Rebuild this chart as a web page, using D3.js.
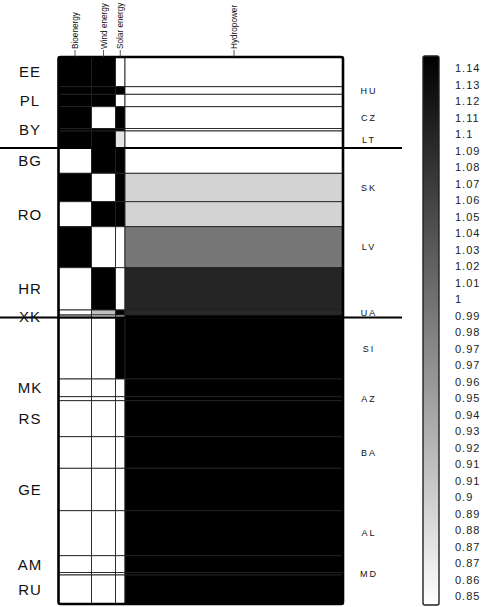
<!DOCTYPE html>
<meta charset="utf-8">
<script src="https://d3js.org/d3.v7.min.js"></script>
<style>
  body { margin: 0; background: #fff; }
  text { font-family: "Liberation Sans", Arial, sans-serif; }
</style>
<svg id="chart" width="484" height="607"></svg>
<script>

// rows (countries), top to bottom, and their relative heights
var countries = ["EE","HU","PL","CZ","BY","LT","BG","SK","RO","LV","HR","UA","XK",
                 "SI","MK","AZ","RS","BA","GE","AL","AM","MD","RU"];
var rowSize = [29.7, 7.6, 12.4, 21.8, 2.5, 17.5, 24.8, 28.4, 25, 41, 42.3, 5, 3,
               61, 17.7, 4, 36, 31.6, 42.4, 45, 16.8, 2.5, 29];

// columns (sources) and their relative widths
var sources = ["Bioenergy", "Wind energy", "Solar energy", "Hydropower"];
var sourceSize = [33, 24, 9.5, 218];

// values per country, one array per source
var bio   = [1.14,1.14,1.14,1.14,1.14,1.14, 0.85,1.14,0.85,1.14,0.85,0.85,0.93,
             0.85,0.85,0.85,0.85,0.85,0.85,0.85,0.85,0.85,0.85];
var wind  = [1.14,1.14,1.14,0.85,1.14,1.14, 1.14,0.85,1.14,0.85,1.14,0.92,0.85,
             0.85,0.85,0.85,0.85,0.85,0.85,0.85,0.85,0.85,0.85];
var solar = [0.85,1.14,0.85,1.14,1.14,0.88, 1.14,1.14,1.14,0.85,0.85,1.14,0.93,
             1.14,0.85,0.85,0.85,0.85,0.85,0.85,0.85,0.85,0.85];
var hydro = [0.85,0.85,0.85,0.85,0.85,0.85, 0.85,0.90,0.90,1.005,1.098,1.095,1.14,
             1.14,1.14,1.14,1.14,1.14,1.14,1.14,1.14,1.14,1.14];

// last country of each group (a line is drawn under it)
var groupEnds = ["LT", "XK"];

// colour bar
var legendDomain = [0.85, 1.14];
var legendLabels = ["1.14","1.13","1.12","1.11","1.1","1.09","1.08","1.07","1.06","1.05",
                    "1.04","1.03","1.02","1.01","1","0.99","0.98","0.97","0.97","0.96",
                    "0.95","0.94","0.93","0.92","0.91","0.91","0.9","0.89","0.88","0.87",
                    "0.87","0.86","0.85"];

var svg = d3.select("#chart");

var values = [bio, wind, solar, hydro];
var rowStart = [0].concat(Array.from(d3.cumsum(rowSize)));
var colStart = [0].concat(Array.from(d3.cumsum(sourceSize)));

var y = d3.scaleLinear().domain([0, d3.sum(rowSize)]).range([57, 604]);
var x = d3.scaleLinear().domain([0, d3.sum(sourceSize)]).range([58.5, 343]);

var color = d3.scaleLinear()
    .domain(legendDomain)
    .range(["#ffffff", "#000000"])
    .clamp(true);

// cells
var cells = [];
countries.forEach(function(c, i) {
  sources.forEach(function(s, j) {
    cells.push({ row: i, col: j, v: values[j][i] });
  });
});

svg.append("g")
  .selectAll("rect")
  .data(cells)
  .enter()
  .append("rect")
    .attr("x", function(d){ return x(colStart[d.col]) })
    .attr("y", function(d){ return y(rowStart[d.row]) })
    .attr("width", function(d){ return x(colStart[d.col + 1]) - x(colStart[d.col]) })
    .attr("height", function(d){ return y(rowStart[d.row + 1]) - y(rowStart[d.row]) })
    .attr("fill", function(d){ return color(d.v) })
    .attr("stroke", "#222")
    .attr("stroke-width", 0.9);

// outer frame
svg.append("rect")
  .attr("x", x(0))
  .attr("y", y(0))
  .attr("width", x(colStart[4]) - x(0))
  .attr("height", y(rowStart[countries.length]) - y(0))
  .attr("rx", 2)
  .attr("fill", "none")
  .attr("stroke", "#000")
  .attr("stroke-width", 2.6);

// group separators
svg.append("g")
  .selectAll("line")
  .data(groupEnds)
  .enter()
  .append("line")
    .attr("x1", 0)
    .attr("x2", 402)
    .attr("y1", function(d){ return y(rowStart[countries.indexOf(d) + 1]) - 0.5 })
    .attr("y2", function(d){ return y(rowStart[countries.indexOf(d) + 1]) - 0.5 })
    .attr("stroke", "#000")
    .attr("stroke-width", 2);

// country labels, alternating left / right
svg.append("g")
  .selectAll("text")
  .data(countries)
  .enter()
  .append("text")
    .attr("x", function(d, i){ return i % 2 == 0 ? 30 : 369 })
    .attr("y", function(d, i){ return (y(rowStart[i]) + y(rowStart[i + 1])) / 2 })
    .attr("text-anchor", "middle")
    .attr("dominant-baseline", "central")
    .style("font-size", function(d, i){ return i % 2 == 0 ? "15px" : "9px" })
    .style("letter-spacing", function(d, i){ return i % 2 == 0 ? "1px" : "2px" })
    .attr("fill", "#111")
    .text(function(d){ return d });

// column headers
var colCenter = sources.map(function(s, j){ return (x(colStart[j]) + x(colStart[j + 1])) / 2 });

svg.append("g")
  .selectAll("line")
  .data(sources)
  .enter()
  .append("line")
    .attr("x1", function(d, j){ return colCenter[j] })
    .attr("x2", function(d, j){ return colCenter[j] })
    .attr("y1", 50)
    .attr("y2", 57)
    .attr("stroke", "#333")
    .attr("stroke-width", 0.8);

svg.append("g")
  .selectAll("text")
  .data(sources)
  .enter()
  .append("text")
    .attr("transform", function(d, j){ return "translate(" + (colCenter[j] + 3) + ",49) rotate(-90)" })
    .attr("text-anchor", "start")
    .style("font-size", "8.2px")
    .attr("fill", "#111")
    .text(function(d){ return d });

// colour bar
var defs = svg.append("defs");
var grad = defs.append("linearGradient")
  .attr("id", "bar")
  .attr("x1", 0).attr("y1", 1).attr("x2", 0).attr("y2", 0);
grad.append("stop").attr("offset", "0%").attr("stop-color", color(legendDomain[0]));
grad.append("stop").attr("offset", "100%").attr("stop-color", color(legendDomain[1]));

svg.append("rect")
  .attr("x", 423)
  .attr("y", 56)
  .attr("width", 16)
  .attr("height", 549)
  .attr("rx", 2)
  .attr("fill", "url(#bar)")
  .attr("stroke", "#222")
  .attr("stroke-width", 1.4);

var ly = d3.scalePoint()
  .domain(d3.range(legendLabels.length))
  .range([68, 596]);

svg.append("g")
  .selectAll("text")
  .data(legendLabels)
  .enter()
  .append("text")
    .attr("x", 455)
    .attr("y", function(d, i){ return ly(i) })
    .attr("dominant-baseline", "central")
    .style("font-size", "11px")
    .style("letter-spacing", "1px")
    .attr("fill", "#222")
    .text(function(d){ return d });

</script>
